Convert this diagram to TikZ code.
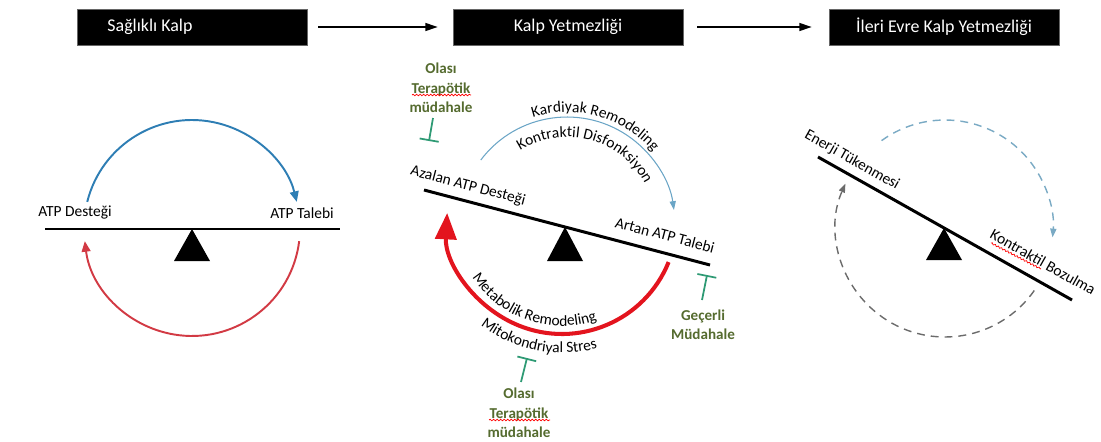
\documentclass[tikz,border=0pt]{standalone}
\usepackage{fontspec}
\setmainfont{Carlito}
\usetikzlibrary{arrows.meta,decorations.text,decorations.pathmorphing}

\definecolor{supplyblue}{HTML}{2E7EB4}
\definecolor{loopred}{HTML}{D23A44}
\definecolor{failred}{HTML}{E3141E}
\definecolor{thinblue}{HTML}{6AA5C6}
\definecolor{stopgreen}{HTML}{2E9A74}
\definecolor{notegreen}{HTML}{556B2F}
\definecolor{dashgrey}{HTML}{6B6B6B}
\definecolor{dashblue}{HTML}{7AAAC4}

\newcommand{\labfont}{\fontsize{8.8}{10}\selectfont}

\begin{document}
\begin{tikzpicture}%
    [x=0.02cm, y=0.02cm,
    headbox/.style={draw=black!60, fill=black, text=white, minimum width=4.6cm,
        minimum height=0.72cm, inner sep=0mm, font=\fontsize{10.2}{12}\selectfont},
    headarrow/.style={line width=0.85pt, -{Triangle[length=7pt,width=4.5pt]}},
    beam/.style={line width=1.7pt},
    pivot/.style={fill=black},
    lab/.style={font=\labfont, inner sep=0mm},
    note/.style={font=\bfseries\fontsize{8.6}{11}\selectfont, text=notegreen,
        align=center, inner sep=0mm},
    stop/.style={draw=stopgreen, line width=1pt, -{Bar[width=11pt]}},
    squiggle/.style={draw=red, line width=0.4pt, decorate,
        decoration={snake, amplitude=0.45pt, segment length=2pt}},
    looparrow/.style={line width=1.1pt, -{Triangle[length=6pt,width=5pt]}},
    dashloop/.style={line width=0.8pt, dash pattern=on 4.5pt off 3.4pt,
        -{Triangle[length=5pt,width=3.5pt]}},
    arctext/.style={decorate, decoration={text along path, text align=center,
        text={|\labfont|#1}}}]

    \useasboundingbox (0,0) rectangle (1101,441);

    % headers
    \node [headbox] (healthy)  at (192,414) {Sağlıklı Kalp\hspace*{1.68cm}};
    \node [headbox] (failure)  at (568,414) {Kalp Yetmezliği};
    \node [headbox] (advanced) at (944,414) {İleri Evre Kalp Yetmezliği};

    \draw [headarrow, shorten <=0.22cm, shorten >=0.3cm] (healthy) -- (failure);
    \draw [headarrow, shorten <=0.28cm, shorten >=0.34cm] (failure) -- (advanced);

    % healthy heart
    \draw [beam] (45,212) -- (340,212);
    \fill [pivot] (192,212) -- (174,180) -- (210,180) -- cycle;
    \node [lab] (supply1) at (75,228)  {ATP Desteği};
    \node [lab] (demand1) at (302,228) {ATP Talebi};
    \draw [looparrow, supplyblue, shift={(192,213)}]
        (166:2.16cm) arc [start angle=166, end angle=14, radius=2.16cm];
    \draw [looparrow, loopred, shift={(192,213)}]
        (-7:2.16cm) arc [start angle=-7, end angle=-173, radius=2.16cm];

    % heart failure
    \draw [beam] (424,251) -- (710,176);
    \fill [pivot] (565,214) -- (547,180) -- (583,180) -- cycle;
    \node [lab, rotate=-14.7] (supply2) at (468,255) {Azalan ATP Desteği};
    \node [lab, rotate=-14.7] (demand2) at (665,206) {Artan ATP Talebi};
    \draw [thinblue, line width=0.6pt, -{Triangle[length=5pt,width=3.5pt]}, shift={(567,216)}]
        (143:2.16cm) arc [start angle=143, end angle=8, radius=2.16cm];
    \path [arctext=Kardiyak Remodeling, shift={(567,216)}]
        (140:2.26cm) arc [start angle=140, end angle=8, radius=2.26cm];
    \path [arctext=Kontraktil Disfonksiyon, shift={(567,216)}]
        (140:1.76cm) arc [start angle=140, end angle=10, radius=1.76cm];
    \draw [failred, line width=2.3pt, -{Triangle[length=15pt,width=12pt]}, shift={(562,222)}]
        (-22:2.3cm) arc [start angle=-22, end angle=-183, radius=2.3cm];
    \path [arctext=Metabolik Remodeling, shift={(562,222)}]
        (-180:2.14cm) arc [start angle=-180, end angle=-38, radius=2.14cm];
    \path [arctext=Mitokondriyal Stres, shift={(562,222)}]
        (-170:2.68cm) arc [start angle=-170, end angle=-32, radius=2.68cm];

    % interventions
    \node [note] (possible1) at (441,353) {Olası\\Terapötik\\müdahale};
    \node [note] (current)   at (703,116) {Geçerli\\Müdahale};
    \node [note] (possible2) at (519,28)  {Olası\\Terapötik\\müdahale};
    \coordinate (stem1) at (433,323); \coordinate (bar1) at (429,300);
    \coordinate (stem2) at (702,141); \coordinate (bar2) at (707,166);
    \coordinate (stem3) at (521,59);  \coordinate (bar3) at (527,83);
    \draw [stop] (stem1) -- (bar1);
    \draw [stop] (stem2) -- (bar2);
    \draw [stop] (stem3) -- (bar3);
    \draw [squiggle] (412,346) -- (471,346);
    \draw [squiggle] (489,21) -- (550,21);

    % advanced heart failure
    \draw [beam] (818,284) -- (1072,141);
    \fill [pivot] (944,213) -- (926,181) -- (962,181) -- cycle;
    \node [lab, rotate=-29.4] (supply3) at (852,281) {Enerji Tükenmesi};
    \node [lab, rotate=-29.4] (demand3) at (1043,179) {Kontraktil Bozulma};
    \draw [squiggle] (991,198) -- (1041,172);
    \draw [dashloop, dashblue, shift={(945,213)}]
        (126:2.16cm) arc [start angle=126, end angle=-5, radius=2.16cm];
    \draw [dashloop, dashgrey, shift={(945,213)}]
        (-35:2.18cm) arc [start angle=-35, end angle=-204, radius=2.18cm];
\end{tikzpicture}
\end{document}
